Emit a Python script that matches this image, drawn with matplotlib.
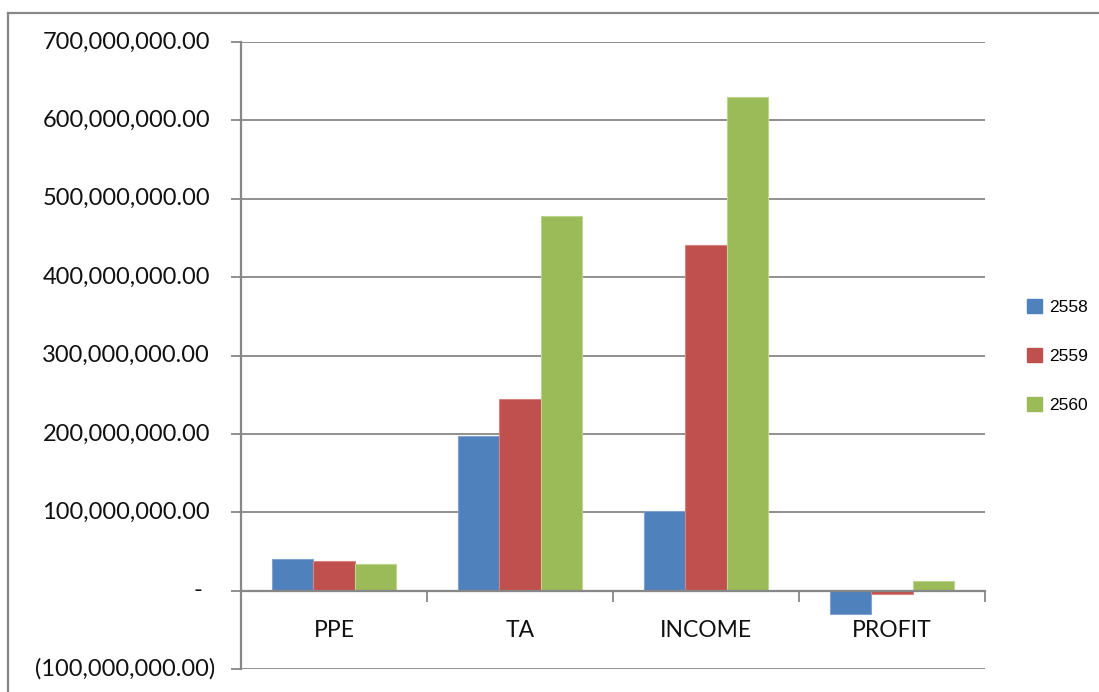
import matplotlib
matplotlib.use("Agg")
import matplotlib.pyplot as plt
import matplotlib.transforms as mtransforms
from matplotlib.patches import Patch
from matplotlib.lines import Line2D
import numpy as np

categories = ["PPE", "TA", "INCOME", "PROFIT"]
years = ["2558", "2559", "2560"]
values_2558 = [40.4e6, 197.0e6, 101.7e6, -29.3e6]
values_2559 = [37.5e6, 244.6e6, 440.6e6, -4.7e6]
values_2560 = [34.1e6, 478.3e6, 629.3e6, 12.4e6]
colors = ["#4F81BD", "#C0504D", "#9BBB59"]
edge_colors = ["#7FA2D0", "#D98380", "#BCD48C"]
y_ticks = [-100e6, 0, 100e6, 200e6, 300e6, 400e6, 500e6, 600e6, 700e6]

W, H = 1099, 692
fig = plt.figure(figsize=(W / 100, H / 100), dpi=100)
ax = fig.add_axes([241 / W, 1 - 669 / H, (985 - 241) / W, (669 - 42) / H])

grey = "#878787"
series = [values_2558, values_2559, values_2560]
n = len(series)
x = np.arange(len(categories))
bar_w = 1 / (n + 1.5)
for i, vals in enumerate(series):
    ax.bar(x + (i - (n - 1) / 2) * bar_w, vals, width=bar_w,
           color=colors[i], edgecolor=edge_colors[i], linewidth=0.8, zorder=3)

ax.set_xlim(-0.5, len(categories) - 0.5)
ax.set_ylim(y_ticks[0], y_ticks[-1])
ax.set_yticks(y_ticks)
ax.yaxis.grid(True, color=grey, linewidth=1.3, zorder=0)
ax.set_axisbelow(True)
ax.tick_params(axis="y", direction="out", length=7, width=1.3, color=grey,
               labelleft=False)

# x axis sits on the zero line, ticks between categories
ax.spines["bottom"].set_position(("data", 0))
for s in ["top", "right"]:
    ax.spines[s].set_visible(False)
for s in ["left", "bottom"]:
    ax.spines[s].set_color(grey)
    ax.spines[s].set_linewidth(1.6)
    ax.spines[s].set_zorder(4)
ax.set_xticks(np.arange(len(categories) + 1) - 0.5)
ax.set_xticks(x, minor=True)
ax.set_xticklabels([])
ax.set_xticklabels(categories, minor=True, fontsize=16.5, family="Lato",
                   color="#111111")
ax.tick_params(axis="x", which="major", direction="out", length=8, width=1.3,
               color=grey)
ax.tick_params(axis="x", which="minor", length=0, pad=21)


def accounting(v):
    if v == 0:
        return "-"
    s = f"{abs(v):,.2f}"
    return f"({s})" if v < 0 else s


trans = mtransforms.blended_transform_factory(ax.transAxes, ax.transData)
for v in y_ticks:
    if v < 0:
        dx = -26
    elif v == 0:
        dx = -39
    else:
        dx = -31
    ax.annotate(accounting(v), xy=(0, v), xycoords=trans,
                xytext=(dx * 0.72, 0), textcoords="offset points",
                ha="right", va="center", fontsize=17, family="Lato",
                color="#111111", annotation_clip=False)

handles = [Patch(facecolor=c, edgecolor=c) for c in colors]
fig.legend(handles, years, loc="center left",
           bbox_to_anchor=(1027 / W, 1 - 356 / H), frameon=False,
           prop={"family": "Liberation Sans", "size": 12.5},
           handlelength=0.86, handleheight=0.86, handletextpad=0.4,
           labelspacing=1.9, borderaxespad=0, borderpad=0)

# outer chart frame
fig.add_artist(Line2D([8 / W, 1.0], [1 - 13 / H, 1 - 13 / H],
                      transform=fig.transFigure, color=grey, linewidth=1.6))
fig.add_artist(Line2D([8 / W, 8 / W], [0, 1 - 13 / H],
                      transform=fig.transFigure, color=grey, linewidth=1.6))

fig.savefig("out.png", dpi=100)
